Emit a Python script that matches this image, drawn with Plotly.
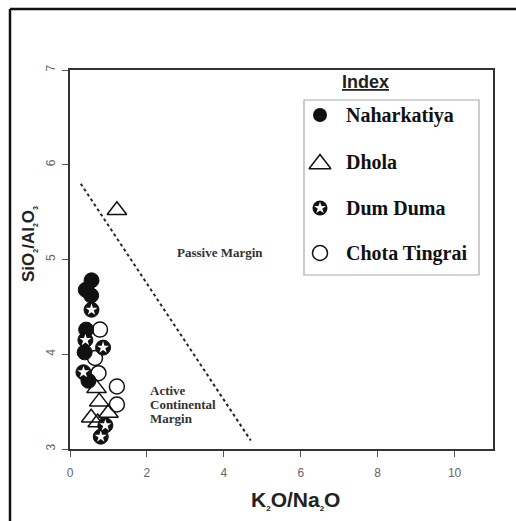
import plotly.graph_objects as go

# ---- data (K2O/Na2O vs SiO2/Al2O3) ----
naharkatiya_x = [0.56, 0.41, 0.55, 0.42, 0.38, 0.48]
naharkatiya_y = [4.78, 4.68, 4.62, 4.26, 4.02, 3.72]

dhola_x = [1.22, 0.69, 0.76, 1.00, 0.55, 0.72]
dhola_y = [5.52, 3.64, 3.50, 3.38, 3.33, 3.28]

dumduma_x = [0.56, 0.40, 0.86, 0.35, 0.92, 0.80]
dumduma_y = [4.47, 4.15, 4.07, 3.81, 3.25, 3.13]

chota_x = [0.78, 0.65, 0.74, 1.22, 1.22]
chota_y = [4.26, 3.96, 3.80, 3.66, 3.47]

# boundary between passive margin and active continental margin fields
boundary_x = [0.28, 4.70]
boundary_y = [5.80, 3.09]

x_ticks = [0, 2, 4, 6, 8, 10]
y_ticks = [3, 4, 5, 6, 7]

legend_names = ["Naharkatiya", "Dhola", "Dum Duma", "Chota Tingrai"]
active_lines = ["Active", "Continental", "Margin"]

# ---- figure geometry (pixels) ----
W, H = 516, 521
L, R, T, B = 70, 493, 70, 449


def px(xp):
    return (xp - L) / (R - L)


def py(yp):
    return (B - yp) / (B - T)


fig = go.Figure()

# boundary line
fig.add_trace(go.Scatter(x=boundary_x, y=boundary_y, mode="lines",
                         line=dict(color="#222", width=2, dash="dot"),
                         showlegend=False, hoverinfo="skip"))

# Chota Tingrai: open circles
fig.add_trace(go.Scatter(x=chota_x, y=chota_y, mode="markers", name="Chota Tingrai",
                         marker=dict(symbol="circle", size=15, color="white",
                                     line=dict(color="#111", width=1.5)),
                         showlegend=False))
# Dhola: open triangles
fig.add_trace(go.Scatter(x=dhola_x, y=dhola_y, mode="markers", name="Dhola",
                         marker=dict(symbol="triangle-up-open", size=17, color="#111",
                                     line=dict(color="#111", width=1.5)),
                         showlegend=False))
# Naharkatiya: filled circles
fig.add_trace(go.Scatter(x=naharkatiya_x, y=naharkatiya_y, mode="markers", name="Naharkatiya",
                         marker=dict(symbol="circle", size=15, color="#111",
                                     line=dict(color="#111", width=1)),
                         showlegend=False))
# Dum Duma: black circle with white star
fig.add_trace(go.Scatter(x=dumduma_x, y=dumduma_y, mode="markers", name="Dum Duma",
                         marker=dict(symbol="circle", size=15, color="#111",
                                     line=dict(color="#111", width=1)),
                         showlegend=False))
fig.add_trace(go.Scatter(x=dumduma_x, y=dumduma_y, mode="markers",
                         marker=dict(symbol="star", size=9, color="white",
                                     line=dict(width=0)),
                         showlegend=False, hoverinfo="skip"))

# ---- index box (pixel-space overlay axes) ----
leg_x = 320
leg_y = [115, 162, 208, 253]
leg_text_x = 344

fig.add_trace(go.Scatter(x=[leg_x], y=[leg_y[0]], xaxis="x2", yaxis="y2", mode="markers",
                         marker=dict(symbol="circle", size=14, color="#111"),
                         showlegend=False, hoverinfo="skip"))
fig.add_trace(go.Scatter(x=[leg_x], y=[leg_y[1] + 2], xaxis="x2", yaxis="y2", mode="markers",
                         marker=dict(symbol="triangle-up-open", size=19, color="#111",
                                     line=dict(color="#111", width=1.5)),
                         showlegend=False, hoverinfo="skip"))
fig.add_trace(go.Scatter(x=[leg_x], y=[leg_y[2]], xaxis="x2", yaxis="y2", mode="markers",
                         marker=dict(symbol="circle", size=15, color="#111"),
                         showlegend=False, hoverinfo="skip"))
fig.add_trace(go.Scatter(x=[leg_x], y=[leg_y[2]], xaxis="x2", yaxis="y2", mode="markers",
                         marker=dict(symbol="star", size=9, color="white", line=dict(width=0)),
                         showlegend=False, hoverinfo="skip"))
fig.add_trace(go.Scatter(x=[leg_x], y=[leg_y[3]], xaxis="x2", yaxis="y2", mode="markers",
                         marker=dict(symbol="circle", size=15, color="white",
                                     line=dict(color="#111", width=1.5)),
                         showlegend=False, hoverinfo="skip"))

annotations = []
for name, yy in zip(legend_names, leg_y):
    annotations.append(dict(x=px(leg_text_x), y=py(yy), xref="paper", yref="paper",
                            text="<b>%s</b>" % name, showarrow=False, xanchor="left",
                            yanchor="middle",
                            font=dict(family="Liberation Serif", size=20, color="#111")))

for i, line in enumerate(active_lines):
    annotations.append(dict(x=px(148), y=py(390 + 14 * i), xref="paper", yref="paper",
                            text="<b>%s</b>" % line, showarrow=False,
                            xanchor="left", yanchor="middle",
                            font=dict(family="Liberation Serif", size=13, color="#333")))

annotations += [
    dict(x=px(365), y=py(82), xref="paper", yref="paper", text="<b><u>Index</u></b>",
         showarrow=False, xanchor="center", yanchor="middle",
         font=dict(family="Liberation Sans", size=18, color="#222")),
    dict(x=3.9, y=5.07, text="<b>Passive Margin</b>", showarrow=False,
         xanchor="center", yanchor="middle",
         font=dict(family="Liberation Serif", size=13, color="#333")),
    dict(x=px(295), y=py(500), xref="paper", yref="paper",
         xanchor="center", yanchor="middle",
         text="<b>K<sub><span style='font-size:8px'>2</span></sub>O/Na<sub><span style='font-size:8px'>2</span></sub>O</b>",
         showarrow=False, font=dict(family="Liberation Sans", size=21, color="#222")),
    dict(x=px(29), y=py(244), xref="paper", yref="paper", textangle=-90,
         xanchor="center", yanchor="middle",
         text="<b>SiO<sub><span style='font-size:7px'>2</span></sub>/Al<sub><span style='font-size:7px'>2</span></sub>O<sub><span style='font-size:7px'>3</span></sub></b>",
         showarrow=False, font=dict(family="Liberation Sans", size=17, color="#222")),
]

shapes = [
    # outer frame
    dict(type="line", xref="paper", yref="paper", x0=px(10), x1=px(10), y0=py(9), y1=py(530),
         line=dict(color="#111", width=2.5)),
    dict(type="line", xref="paper", yref="paper", x0=px(10), x1=px(530), y0=py(9), y1=py(9),
         line=dict(color="#111", width=2.5)),
    # index box
    dict(type="rect", xref="paper", yref="paper", x0=px(304), x1=px(479), y0=py(100), y1=py(275),
         line=dict(color="#aaa", width=1.2), fillcolor="rgba(0,0,0,0)"),
]

fig.update_layout(
    width=W, height=H,
    margin=dict(l=L, r=W - R, t=T, b=H - B, pad=0),
    paper_bgcolor="white", plot_bgcolor="white",
    showlegend=False,
    annotations=annotations,
    shapes=shapes,
    xaxis=dict(range=[0, 11], tickvals=x_ticks, ticks="outside", ticklen=6, tickwidth=1.2,
               tickcolor="#555", showgrid=False, zeroline=False, showline=True, mirror=True,
               linecolor="#333", linewidth=2, ticklabelstandoff=6,
               tickfont=dict(family="Liberation Sans", size=12, color="#666")),
    yaxis=dict(range=[3, 7], tickvals=y_ticks, ticks="outside", ticklen=6, tickwidth=1.2,
               tickcolor="#555", showgrid=False, zeroline=False, showline=True, mirror=True,
               linecolor="#333", linewidth=2, tickangle=-90, ticklabelstandoff=2,
               tickfont=dict(family="Liberation Sans", size=12, color="#666")),
    xaxis2=dict(range=[L, R], overlaying="x", visible=False),
    yaxis2=dict(range=[B, T], overlaying="y", visible=False),
)

fig.write_html("out.html")
